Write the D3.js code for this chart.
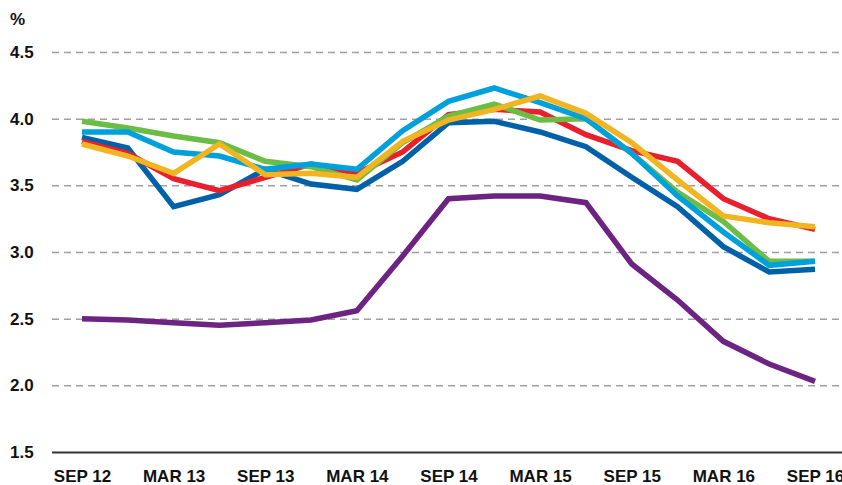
<!DOCTYPE html>
<html>
<head>
<meta charset="utf-8">
<script src="https://cdn.jsdelivr.net/npm/d3@7"></script>
<style>
  html, body { margin: 0; padding: 0; background: #fff; }
  svg { display: block; font-family: "Liberation Sans", Arial, sans-serif; }
</style>
</head>
<body>
<div id="chart"></div>
<script>
// quarterly periods, Sep 2012 .. Sep 2016
var periods = ['SEP 12', 'DEC 12', 'MAR 13', 'JUN 13', 'SEP 13', 'DEC 13', 'MAR 14', 'JUN 14',
    'SEP 14', 'DEC 14', 'MAR 15', 'JUN 15', 'SEP 15', 'DEC 15', 'MAR 16', 'JUN 16', 'SEP 16'];

var yTicks = [1.5, 2.0, 2.5, 3.0, 3.5, 4.0, 4.5];

// series values (%)
var purple = [2.50, 2.49, 2.47, 2.45, 2.47, 2.49, 2.56, 2.97, 3.40, 3.42, 3.42, 3.37, 2.91, 2.64, 2.33, 2.16, 2.03];
var darkBlue = [3.86, 3.78, 3.34, 3.43, 3.62, 3.51, 3.47, 3.68, 3.97, 3.98, 3.90, 3.79, 3.56, 3.34, 3.04, 2.85, 2.87];
var red = [3.83, 3.74, 3.55, 3.46, 3.56, 3.66, 3.59, 3.75, 4.03, 4.07, 4.05, 3.88, 3.76, 3.68, 3.40, 3.25, 3.17];
var green = [3.98, 3.93, 3.87, 3.82, 3.68, 3.64, 3.54, 3.82, 4.02, 4.11, 3.99, 4.00, 3.74, 3.45, 3.23, 2.93, 2.93];
var lightBlue = [3.90, 3.90, 3.75, 3.72, 3.62, 3.66, 3.62, 3.91, 4.13, 4.23, 4.12, 4.00, 3.74, 3.42, 3.15, 2.90, 2.93];
var orange = [3.81, 3.72, 3.59, 3.81, 3.58, 3.59, 3.56, 3.83, 3.99, 4.07, 4.17, 4.04, 3.82, 3.54, 3.27, 3.22, 3.19];

var series = [
    { name: 'purple', values: purple, color: '#6d2382' },
    { name: 'darkBlue', values: darkBlue, color: '#0061a8' },
    { name: 'red', values: red, color: '#ea1f2d' },
    { name: 'green', values: green, color: '#6bbd45' },
    { name: 'lightBlue', values: lightBlue, color: '#00a0dd' },
    { name: 'orange', values: orange, color: '#f0b520' }
];

var width = 842, height = 485;

var svg = d3.select('#chart').append('svg')
    .attr('width', width)
    .attr('height', height);

var x = d3.scalePoint().domain(periods).range([82, 815]);
var y = d3.scaleLinear().domain([1.5, 4.5]).range([452, 52]);

// y axis + grid
var yAxis = svg.append('g')
    .attr('transform', 'translate(52,0)')
    .call(d3.axisLeft(y)
        .tickValues(yTicks)
        .tickFormat(d3.format('.1f'))
        .tickSize(-width + 52)
        .tickPadding(0));
yAxis.select('.domain').remove();
yAxis.selectAll('.tick line')
    .attr('stroke', function (d) { return d === 1.5 ? '#333' : '#a0a0a0'; })
    .attr('stroke-width', function (d) { return d === 1.5 ? 2 : 1.5; })
    .attr('stroke-dasharray', function (d) { return d === 1.5 ? null : '7,5'; });
yAxis.selectAll('.tick text')
    .attr('x', -42)
    .attr('text-anchor', 'start')
    .attr('fill', '#111')
    .attr('font-size', 17)
    .attr('font-weight', 'bold');

// x axis labels
var xAxis = svg.append('g')
    .attr('transform', 'translate(0,452)')
    .call(d3.axisBottom(x)
        .tickValues(periods.filter(function (d, i) { return i % 2 === 0; }))
        .tickSize(0)
        .tickPadding(18));
xAxis.select('.domain').remove();
xAxis.selectAll('.tick text')
    .attr('fill', '#111')
    .attr('font-size', 17)
    .attr('font-weight', 'bold');

// unit
svg.append('text')
    .attr('x', 10)
    .attr('y', 25)
    .attr('fill', '#111')
    .attr('font-size', 17)
    .attr('font-weight', 'bold')
    .text('%');

var line = d3.line()
    .x(function (d, i) { return x(periods[i]); })
    .y(function (d) { return y(d); });

svg.append('g')
    .selectAll('path')
    .data(series)
    .enter()
    .append('path')
    .attr('d', function (d) { return line(d.values); })
    .attr('fill', 'none')
    .attr('stroke', function (d) { return d.color; })
    .attr('stroke-width', 5.5)
    .attr('stroke-linejoin', 'miter');
</script>
</body>
</html>
